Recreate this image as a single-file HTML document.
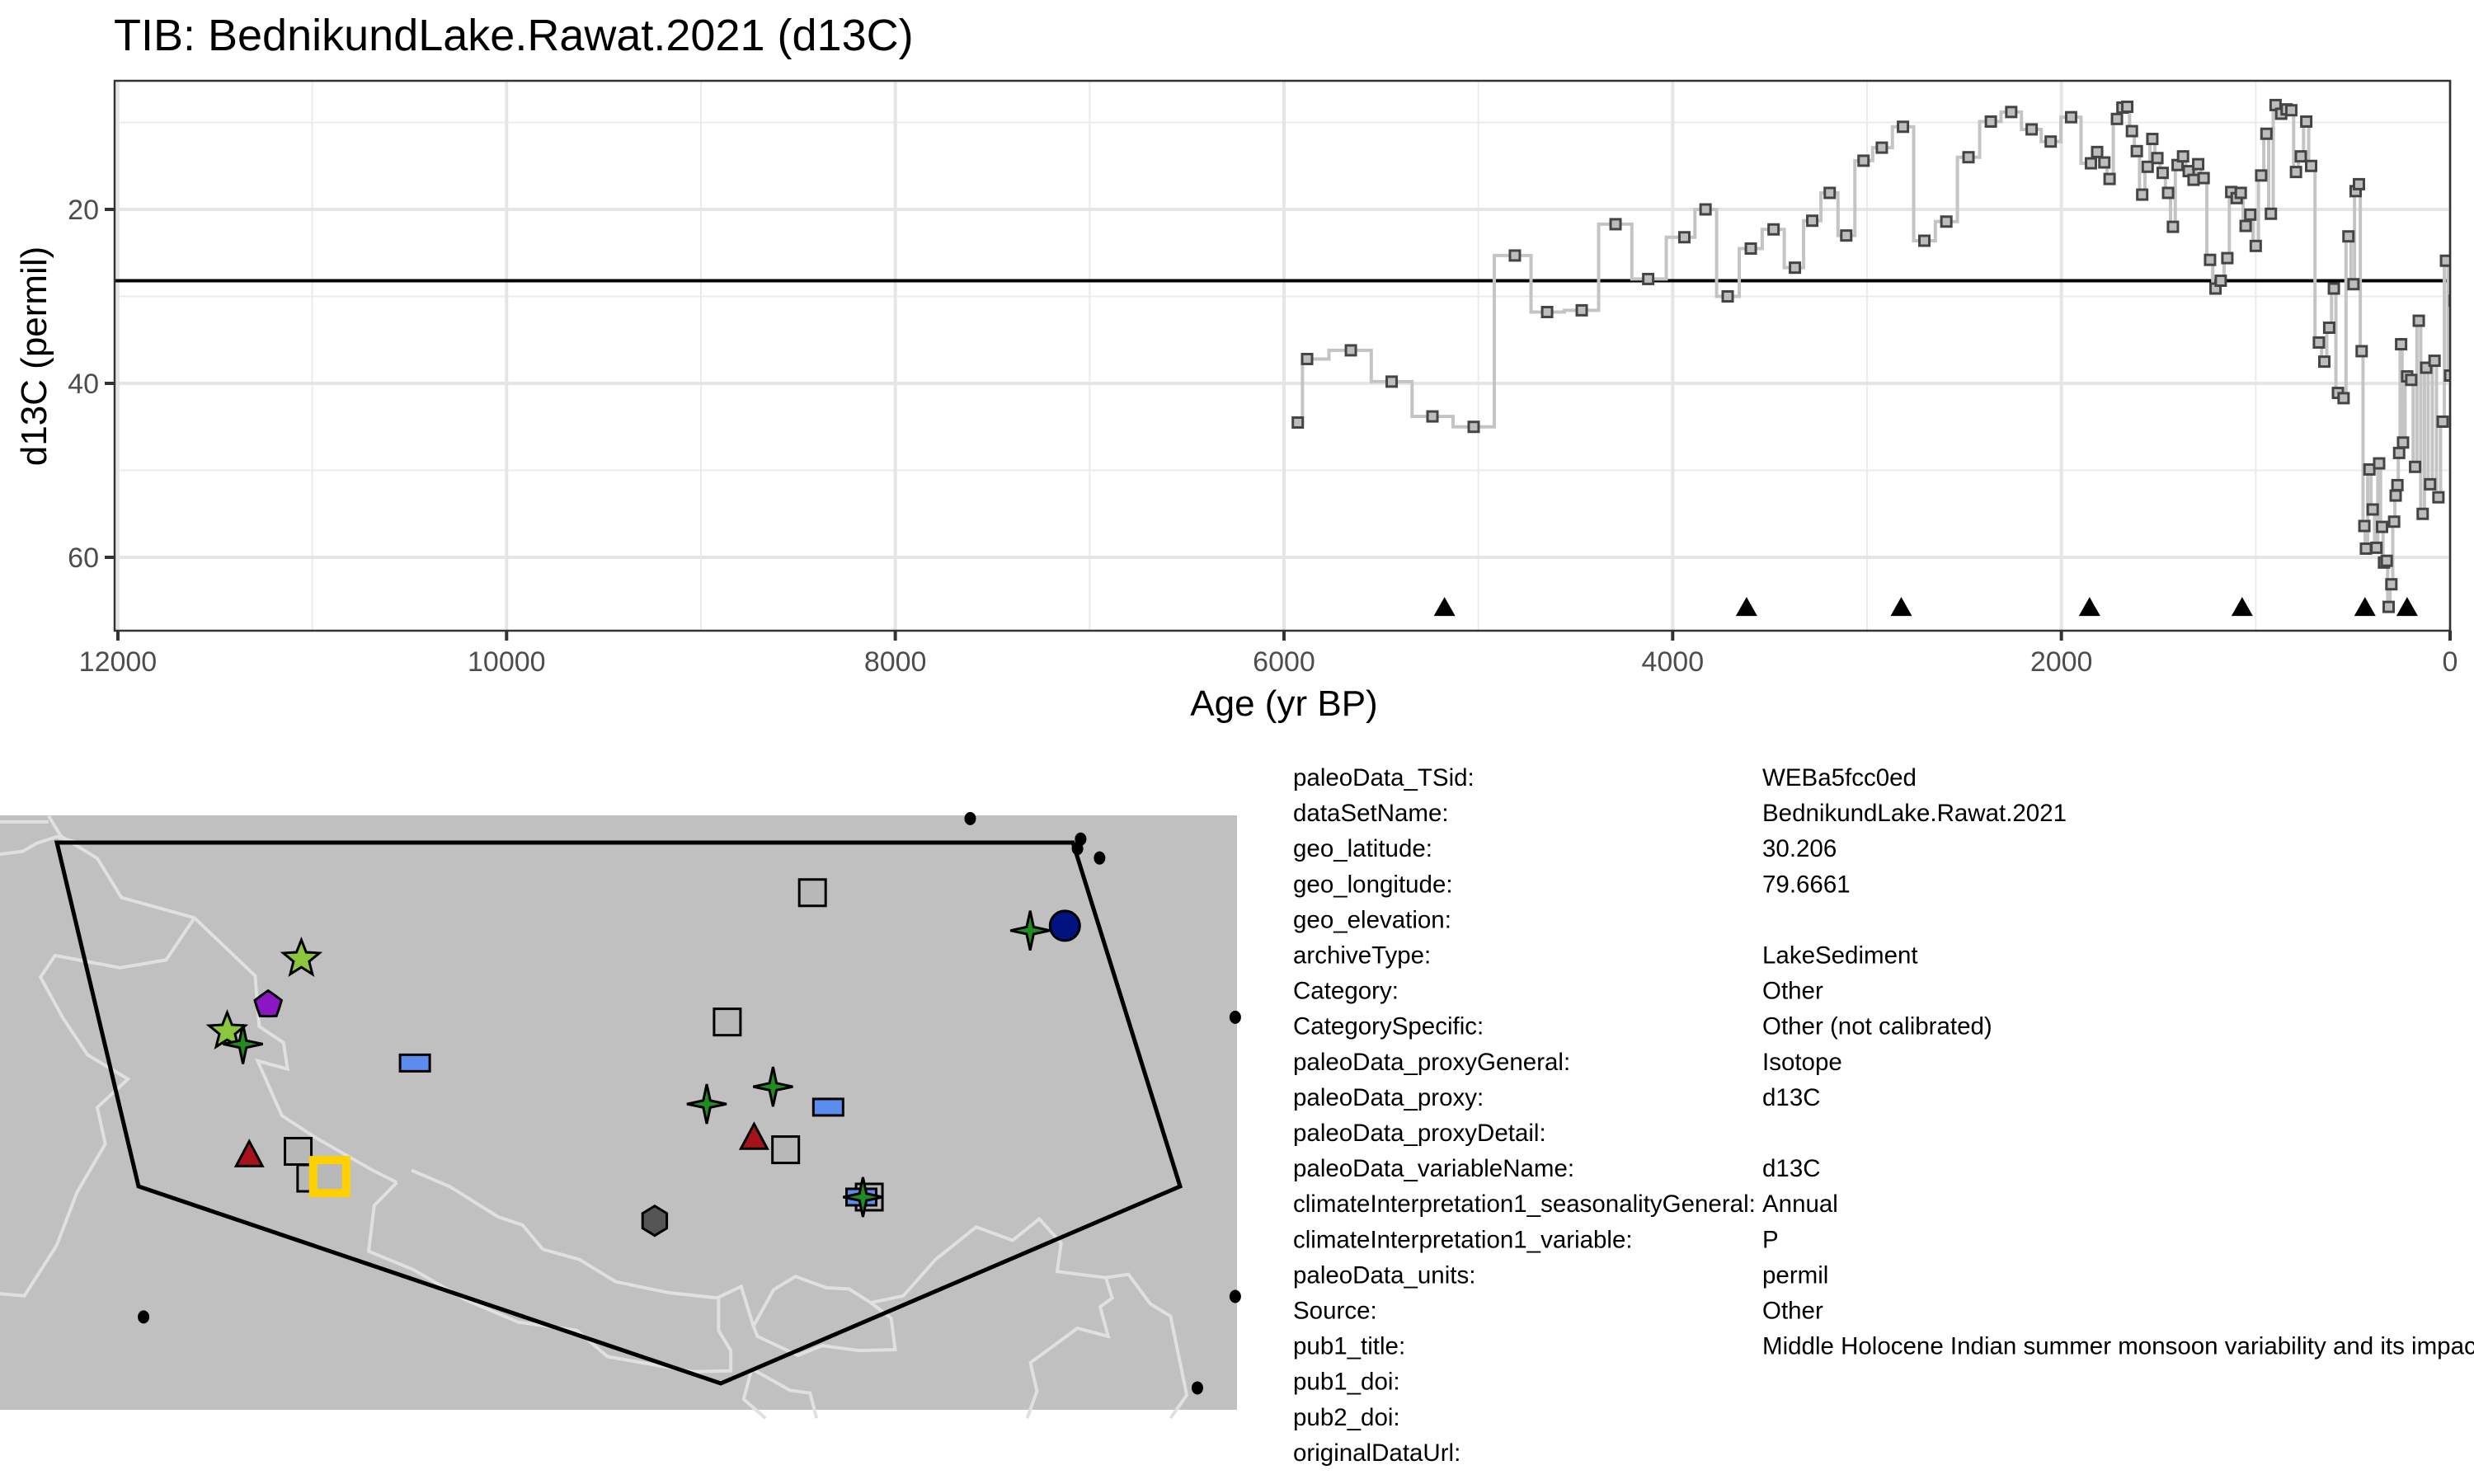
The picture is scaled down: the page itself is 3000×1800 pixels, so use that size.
<!DOCTYPE html>
<html><head><meta charset="utf-8"><style>
html,body{margin:0;padding:0;background:#fff}
svg{display:block;font-family:"Liberation Sans",Arial,sans-serif}
</style></head><body>
<svg id="chart" width="3000" height="1800" viewBox="0 0 3000 1800" xmlns="http://www.w3.org/2000/svg">
<defs><clipPath id="pclip"><rect x="139" y="98" width="2832" height="667"/></clipPath></defs>
<text x="138" y="61" font-size="54" fill="#000">TIB: BednikundLake.Rawat.2021 (d13C)</text>
<rect x="139" y="98" width="2832" height="667" fill="#fff"/>
<g id="grid"></g>
<g id="series" clip-path="url(#pclip)"></g>
<rect x="139" y="98" width="2832" height="667" fill="none" stroke="#333" stroke-width="2.5"/>
<g id="axes"></g>
<text x="1557" y="868" font-size="44" text-anchor="middle" fill="#000">Age (yr BP)</text>
<text transform="translate(56,432) rotate(-90)" font-size="44" text-anchor="middle" fill="#000">d13C (permil)</text>

<g id="map">
<rect x="0" y="989" width="1500" height="721" fill="#c0c0c0"/>
<g id="borders" fill="none" stroke="#e0e0e0" stroke-width="4"></g>
<polygon points="69,1022 1301,1022 1431,1439 874,1678 168,1439" fill="none" stroke="#000" stroke-width="5"/>
<g id="markers"></g>
</g>
<g id="table" font-size="29.5" fill="#000"></g>
</svg>
<script>
// ---- chart data ----
const ages = [5929,5881,5656,5446,5236,5024,4812,4646,4468,4294,4126,3940,3831,3717,3598,3481,3371,3282,3192,3107,3018,2924,2815,2705,2592,2478,2363,2258,2153,2055,1950,1848,1816,1779,1752,1714,1686,1661,1637,1612,1584,1556,1532,1506,1479,1451,1426,1402,1374,1345,1320,1296,1268,1235,1207,1180,1146,1126,1098,1077,1052,1028,1000,972,945,922,898,869,841,817,793,768,740,715,675,647,622,598,577,548,523,497,486,469,455,441,433,415,398,379,365,350,340,326,316,302,288,280,271,262,252,242,221,200,180,161,141,123,103,80,60,38,21,0,-24];
const values = [44.5,37.2,36.2,39.8,43.8,45.0,25.3,31.8,31.6,21.7,28.0,23.2,20.0,30.0,24.5,22.3,26.7,21.3,18.1,23.0,14.4,12.9,10.5,23.6,21.4,14.0,9.9,8.8,10.8,12.2,9.4,14.7,13.4,14.6,16.5,9.6,8.3,8.2,11.0,13.3,18.3,15.1,11.9,14.1,15.8,18.1,22.0,14.9,13.9,15.6,16.6,14.8,16.4,25.8,29.1,28.2,25.6,18.0,18.7,18.1,21.9,20.6,24.2,16.1,11.3,20.5,8.0,9.0,8.5,8.6,15.7,13.9,9.9,15.0,35.3,37.5,33.6,29.1,41.1,41.7,23.1,28.6,17.9,17.1,36.3,56.4,59.0,49.9,54.5,58.9,49.2,56.5,60.6,60.4,65.7,63.1,55.9,52.9,51.7,48.0,35.5,46.8,39.2,39.6,49.6,32.8,55.0,38.2,51.6,37.4,53.1,44.4,25.9,39.1,30.5];
const chronAges = [5174,3620,2824,1855,1070,438,221];
const chronY = 65.7;
const meanValue = 28.2;
const xTicks = [12000,10000,8000,6000,4000,2000,0];
const xMinor = [11000,9000,7000,5000,3000,1000];
const yTicks = [20,40,60];
const yMinor = [10,30,50];

const NS="http://www.w3.org/2000/svg";
function mk(tag, attrs, parent){const e=document.createElementNS(NS,tag);for(const k in attrs)e.setAttribute(k,attrs[k]);parent.appendChild(e);return e;}
const X = a => 2971 - a*0.23567;
const Y = v => 254 + (v-20)*10.55;

const grid=document.getElementById('grid');
xMinor.forEach(t=>{const l=mk('line',{x1:X(t),x2:X(t),y1:98,y2:765,stroke:'#ebebeb','stroke-width':2},grid);

});
yMinor.forEach(t=>{const l=mk('line',{x1:139,x2:2971,y1:Y(t),y2:Y(t),stroke:'#ebebeb','stroke-width':2},grid);

});
xTicks.forEach(t=>{const l=mk('line',{x1:X(t),x2:X(t),y1:98,y2:765,stroke:'#e5e5e5','stroke-width':4},grid);

});
yTicks.forEach(t=>{const l=mk('line',{x1:139,x2:2971,y1:Y(t),y2:Y(t),stroke:'#e5e5e5','stroke-width':4},grid);

});
const ml=mk('line',{x1:139,x2:2971,y1:Y(meanValue),y2:Y(meanValue),stroke:'#000','stroke-width':4},grid);



const ser=document.getElementById('series');
let d='M'+X(ages[0])+','+Y(values[0]);
for(let i=1;i<ages.length;i++){const mx=(X(ages[i-1])+X(ages[i]))/2;d+=' H'+mx+' V'+Y(values[i])+' H'+X(ages[i]);}
const sl=mk('path',{d:d,fill:'none',stroke:'#c4c4c4','stroke-width':4},ser);


for(let i=0;i<ages.length;i++){const r=mk('rect',{x:X(ages[i])-6,y:Y(values[i])-6,width:12,height:12,fill:'#bdbdbd',stroke:'#444','stroke-width':3},ser);

}
chronAges.forEach(a=>{const x=X(a),y=Y(chronY);const p=mk('polygon',{points:`${x-13},${y+11} ${x+13},${y+11} ${x},${y-12}`,fill:'#000'},ser);

});

const ax=document.getElementById('axes');
xTicks.forEach(t=>{const l=mk('line',{x1:X(t),x2:X(t),y1:765,y2:777,stroke:'#333','stroke-width':4},ax);


const tx=mk('text',{x:X(t),y:814,'font-size':34,'text-anchor':'middle',fill:'#4d4d4d'},ax);tx.textContent=t;

});
yTicks.forEach(t=>{const l=mk('line',{x1:127,x2:139,y1:Y(t),y2:Y(t),stroke:'#333','stroke-width':4},ax);


const tx=mk('text',{x:120,y:Y(t)+12,'font-size':34,'text-anchor':'end',fill:'#4d4d4d'},ax);tx.textContent=t;

});

// ---- map ----
const zb=[
[[60,60],[75,110],[120,165],[150,262],[240,312],[315,455],[320,580],[350,620],[355,685],[318,665],[348,800],[390,855],[460,935],[490,965]],
[[508,935],[555,975],[615,1050],[645,1070],[670,1130],[715,1155],[760,1210],[825,1237],[885,1250],[915,1222],[930,1320]],
[[490,965],[462,1022],[455,1135],[510,1180],[575,1255],[640,1310],[712,1330],[750,1395],[855,1432],[902,1430],[902,1380],[887,1330],[887,1250]],
[[930,1320],[955,1230],[982,1197],[1020,1225],[1048,1228],[1075,1262],[1100,1300],[1105,1378],[1060,1380],[1015,1368],[985,1392],[935,1345],[930,1320]],
[[1075,1262],[1115,1245],[1155,1155],[1205,1075],[1250,1108],[1283,1055],[1310,1115],[1305,1185],[1365,1200],[1393,1192],[1420,1265],[1445,1295],[1465,1490],[1445,1547]],
[[1365,1200],[1373,1250],[1358,1272],[1368,1345],[1330,1325],[1272,1410],[1280,1480],[1268,1547]],
[[0,155],[28,148],[45,128],[70,112],[100,128]],[[0,75],[60,75]],
[[240,312],[205,416],[148,435],[68,405],[50,458],[78,560],[108,650],[158,710],[120,780],[130,870],[95,990],[70,1120],[30,1245],[0,1240]],
[[928,1425],[918,1500],[945,1547]],[[928,1425],[975,1478],[1000,1485],[1008,1547]]];
const bg=document.getElementById('borders');
zb.forEach(line=>{const p=mk('polyline',{points:line.map(q=>(q[0]/1.018).toFixed(1)+','+(960+q[1]/2.035).toFixed(1)).join(' ')},bg);

});

const S=1.913, mg=document.getElementById('markers');
function star(cx,cy,n,ro,ri){let pts=[];for(let i=0;i<2*n;i++){const r=i%2?ri:ro;const a=-Math.PI/2+i*Math.PI/n;pts.push((cx+r*Math.cos(a)).toFixed(1)+','+(cy+r*Math.sin(a)).toFixed(1));}return pts.join(' ');}
[[615,519],[685,532],[683,538],[697,544],[783,645],[91,835],[759,880],[783,822]].forEach(q=>{const c=mk('ellipse',{cx:q[0]*S,cy:q[1]*S,rx:7,ry:8,fill:'#000'},mg);

});
[[515,566],[461,648],[189,730],[498,729],[197,747],[551,759]].forEach(q=>{const r=mk('rect',{x:q[0]*S-16,y:q[1]*S-16,width:32,height:32,fill:'#b8b8b8',stroke:'#000','stroke-width':3},mg);

});
[[263,674],[525,702],[546,759]].forEach(q=>{const r=mk('rect',{x:q[0]*S-18,y:q[1]*S-10,width:36,height:20,fill:'#5b8def',stroke:'#000','stroke-width':3},mg);

});
[[191,608],[144,654]].forEach(q=>{const p=mk('polygon',{points:star(q[0]*S,q[1]*S,5,23,10),fill:'#8cc63f',stroke:'#000','stroke-width':3},mg);

});
[[154,662],[448,700],[490,689],[653,590],[547,759]].forEach(q=>{const p=mk('polygon',{points:star(q[0]*S,q[1]*S,4,24,6),fill:'#228b22',stroke:'#000','stroke-width':3},mg);

});
const pe=mk('polygon',{points:star(170*S,637*S,5,17,14),fill:'#8a16c4',stroke:'#000','stroke-width':3},mg);


const ci=mk('circle',{cx:675*S,cy:587*S,r:18,fill:'#00137f',stroke:'#000','stroke-width':3},mg);


[[158,732],[478,721]].forEach(q=>{const x=q[0]*S,y=q[1]*S;const p=mk('polygon',{points:`${x-16},${y+14} ${x+16},${y+14} ${x},${y-16}`,fill:'#a5121c',stroke:'#000','stroke-width':3},mg);

});
const hx=[];for(let i=0;i<6;i++){const a=Math.PI/6+i*Math.PI/3;hx.push((415*S+17*Math.cos(a)).toFixed(1)+','+(774*S+18*Math.sin(a)).toFixed(1));}
const hexg=mk('polygon',{points:hx.join(' '),fill:'#555',stroke:'#000','stroke-width':3},mg);


const ys=mk('rect',{x:209*S-20,y:746*S-20,width:40,height:40,fill:'#b8b8b8',stroke:'#ffd000','stroke-width':10},mg);



// ---- table ----
const keys=["paleoData_TSid:","dataSetName:","geo_latitude:","geo_longitude:","geo_elevation:","archiveType:","Category:","CategorySpecific:","paleoData_proxyGeneral:","paleoData_proxy:","paleoData_proxyDetail:","paleoData_variableName:","climateInterpretation1_seasonalityGeneral:","climateInterpretation1_variable:","paleoData_units:","Source:","pub1_title:","pub1_doi:","pub2_doi:","originalDataUrl:"];
const vals=["WEBa5fcc0ed","BednikundLake.Rawat.2021","30.206","79.6661","","LakeSediment","Other","Other (not calibrated)","Isotope","d13C","","d13C","Annual","P","permil","Other","Middle Holocene Indian summer monsoon variability and its impact","","",""];
const tg=document.getElementById('table');
keys.forEach((k,i)=>{const y=953+i*43.1;
const t=mk('text',{x:1568,y:y},tg);t.textContent=k;


const v=mk('text',{x:2137,y:y},tg);v.textContent=vals[i];

});
</script>
</body></html>
